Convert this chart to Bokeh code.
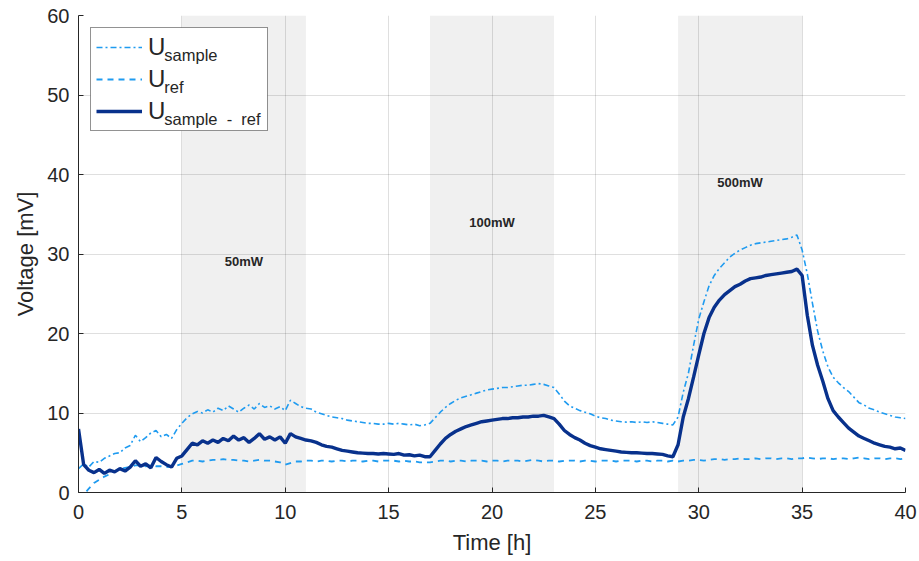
from bokeh.plotting import figure
from bokeh.models import (Range1d, FixedTicker, BoxAnnotation, Label, Legend, LegendItem,
                          ColumnDataSource)
from bokeh.embed import file_html
from bokeh.resources import INLINE

# ---------------- data ----------------
time_h = [i * 0.25 for i in range(161)]

u_sample = [
    3.0, 3.6, 3.2, 3.9, 3.8, 4.3, 4.6, 4.9, 5.0, 5.6, 5.9, 7.2, 6.4, 6.9, 7.5, 7.8,
    7.0, 7.3, 6.8, 7.9, 8.7, 9.4, 9.9, 10.2, 10.0, 10.4, 10.1, 10.6, 10.3, 10.9, 10.5, 10.1,
    10.6, 11.0, 10.5, 11.2, 10.7, 10.9, 10.5, 10.8, 10.3, 11.6, 11.2, 10.8, 10.6, 10.5, 10.1, 9.9,
    9.7, 9.5, 9.4, 9.3, 9.1, 9.0, 8.9, 8.8, 8.7, 8.7, 8.6, 8.6, 8.7, 8.6, 8.7, 8.6,
    8.5, 8.6, 8.4, 8.5, 8.7, 9.4, 10.1, 10.7, 11.2, 11.6, 11.9, 12.1, 12.3, 12.5, 12.7, 12.9,
    13.0, 13.1, 13.2, 13.2, 13.3, 13.4, 13.5, 13.5, 13.6, 13.7, 13.6, 13.4, 13.2, 12.4, 11.5, 10.9,
    10.6, 10.3, 10.1, 9.9, 9.6, 9.4, 9.3, 9.1, 9.0, 8.9, 8.85, 8.9, 8.8, 8.9, 8.8, 8.9,
    8.8, 8.7, 8.6, 8.5, 9.5, 12.6, 15.0, 18.5, 21.8, 24.0, 26.0, 27.3, 28.2, 28.9, 29.6, 30.1,
    30.5, 30.8, 31.1, 31.3, 31.4, 31.5, 31.6, 31.7, 31.8, 31.9, 32.1, 32.4, 30.5, 27.5, 23.8, 20.3,
    17.8, 15.8, 14.5, 13.8, 13.2, 12.7, 12.0, 11.3, 11.0, 10.6, 10.4, 10.1, 9.9, 9.7, 9.5, 9.4,
    9.3,
]

u_ref = [
    -0.8, -0.3, 0.5, 1.2, 1.6, 2.0, 2.3, 2.7, 2.9, 3.1, 3.2, 3.4, 3.4, 3.3, 3.4, 3.3,
    3.3, 3.2, 3.3, 3.4, 3.6, 3.8, 4.0, 4.0, 3.9, 4.0, 4.1, 4.1, 4.2, 4.1, 4.1, 4.0,
    4.0, 3.9, 4.0, 4.1, 4.0, 4.0, 3.9, 3.8, 3.5, 3.7, 3.9, 3.9, 4.0, 4.0, 3.9, 4.0,
    4.0, 3.9, 4.0, 4.0, 3.9, 4.0, 4.0, 3.9, 4.0, 4.0, 3.9, 4.0, 4.0, 4.0, 3.9, 4.0,
    3.9, 3.9, 3.8, 3.8, 3.8, 3.9, 4.0, 4.0, 3.9, 4.0, 4.0, 3.9, 4.0, 4.0, 4.0, 3.9,
    4.0, 4.0, 3.9, 4.0, 4.0, 4.0, 3.9, 4.0, 4.1, 4.0, 3.9, 4.0, 4.0, 3.9, 4.0, 4.0,
    4.0, 3.9, 4.0, 4.0, 3.9, 4.0, 4.0, 4.0, 3.9, 4.0, 4.0, 4.0, 3.9, 4.0, 4.0, 3.9,
    4.0, 4.0, 3.9, 4.0, 3.9, 4.0, 4.0, 4.1, 4.1, 4.0, 4.1, 4.2, 4.2, 4.1, 4.2, 4.2,
    4.3, 4.2, 4.2, 4.3, 4.2, 4.3, 4.3, 4.2, 4.3, 4.3, 4.2, 4.3, 4.3, 4.4, 4.3, 4.2,
    4.3, 4.3, 4.2, 4.3, 4.3, 4.2, 4.3, 4.4, 4.3, 4.2, 4.3, 4.3, 4.2, 4.3, 4.3, 4.2,
    4.3,
]

u_diff = [
    8.0, 3.5, 2.8, 2.5, 2.9, 2.4, 2.8, 2.6, 3.0, 2.7, 3.2, 4.0, 3.3, 3.6, 3.1, 4.4,
    3.9, 3.5, 3.2, 4.3, 4.6, 5.4, 6.2, 6.0, 6.5, 6.2, 6.6, 6.3, 6.8, 6.5, 7.1, 6.6,
    6.9, 6.3, 6.8, 7.4, 6.7, 7.0, 6.6, 7.0, 6.2, 7.4, 7.0, 6.8, 6.6, 6.5, 6.3, 6.0,
    5.8, 5.7, 5.5, 5.3, 5.2, 5.1, 5.0, 4.95, 4.9, 4.9, 4.85, 4.9, 4.85, 4.8, 4.9, 4.7,
    4.75, 4.6, 4.7, 4.5, 4.5, 5.3, 6.1, 6.8, 7.3, 7.7, 8.0, 8.3, 8.5, 8.7, 8.9, 9.0,
    9.1, 9.2, 9.3, 9.3, 9.4, 9.4, 9.5, 9.5, 9.6, 9.6, 9.7, 9.5, 9.3, 8.6, 7.8, 7.3,
    6.9, 6.6, 6.2, 5.9, 5.7, 5.5, 5.4, 5.3, 5.2, 5.1, 5.05, 5.0, 5.0, 4.95, 4.9, 4.9,
    4.85, 4.8, 4.6, 4.5, 6.0, 9.5, 11.8, 14.5, 17.3, 20.0, 22.0, 23.3, 24.2, 24.9, 25.4, 25.9,
    26.2, 26.6, 26.9, 27.0, 27.1, 27.3, 27.4, 27.5, 27.6, 27.7, 27.8, 28.1, 27.3, 22.3, 18.5, 16.0,
    14.0, 11.8, 10.3, 9.5, 8.8, 8.1, 7.6, 7.1, 6.8, 6.5, 6.2, 6.0, 5.8, 5.7, 5.5, 5.6,
    5.3,
]

laser_start = [5, 17, 29]
laser_end = [11, 23, 35]
laser_labels = ["50mW", "100mW", "500mW"]
label_time = [8, 20, 32]
label_volt = [29, 34, 39]

x_ticks = [0, 5, 10, 15, 20, 25, 30, 35, 40]
y_ticks = [0, 10, 20, 30, 40, 50, 60]

legend_main = ["U", "U", "U"]
legend_subs = ["sample", "ref", "sample\u00a0\u00a0-\u00a0\u00a0ref"]

LIGHT = "#1f9bf0"
DARK = "#08318c"
AX = "#262626"
FONT = "Liberation Sans"

p = figure(width=917, height=559, output_backend="svg", toolbar_location=None,
           x_range=Range1d(0, 40), y_range=Range1d(0, 60),
           min_border_left=78, min_border_right=12, min_border_top=15, min_border_bottom=67)
p.outline_line_color = None
p.background_fill_color = "white"

# shaded laser periods
for s, e in zip(laser_start, laser_end):
    p.add_layout(BoxAnnotation(left=s, right=e, fill_color="#f0f0f0", fill_alpha=1.0,
                               line_color=None, level="image"))

src = ColumnDataSource(dict(t=time_h, us=u_sample, ur=u_ref, ud=u_diff))
r1 = p.line("t", "us", source=src, line_color=LIGHT, line_width=1.6, line_dash="6 3 2 3")
r2 = p.line("t", "ur", source=src, line_color=LIGHT, line_width=1.8, line_dash="6 5")
r3 = p.line("t", "ud", source=src, line_color=DARK, line_width=3.4)

# axes
for ax in (p.xaxis[0], p.yaxis[0]):
    ax.axis_line_color = AX
    ax.major_tick_line_color = AX
    ax.major_tick_in = 5
    ax.major_tick_out = 0
    ax.minor_tick_line_color = None
    ax.major_label_text_font = FONT
    ax.major_label_text_font_size = "20px"
    ax.major_label_text_color = AX
    ax.axis_label_text_font = FONT
    ax.axis_label_text_font_size = "22px"
    ax.axis_label_text_font_style = "normal"
    ax.axis_label_text_color = AX
p.xaxis.ticker = FixedTicker(ticks=x_ticks)
p.yaxis.ticker = FixedTicker(ticks=y_ticks)
p.xaxis.axis_label = "Time [h]"
p.yaxis.axis_label = "Voltage [mV]"
p.xaxis.major_label_standoff = 12
p.yaxis.major_label_standoff = 9
p.xaxis.axis_label_standoff = 8
p.yaxis.axis_label_standoff = 6

p.xgrid.grid_line_color = AX
p.xgrid.grid_line_alpha = 0.15
p.ygrid.grid_line_color = AX
p.ygrid.grid_line_alpha = 0.15

# white backing behind the legend (covers the grid there)
p.add_layout(BoxAnnotation(left=0.58, right=9.14, top=58.5, bottom=45.5,
                           fill_color="white", fill_alpha=1.0, line_color=None,
                           level="underlay"))

# power labels
for lt, lv, txt in zip(label_time, label_volt, laser_labels):
    p.add_layout(Label(x=lt, y=lv, text=txt, text_align="center", text_baseline="middle",
                       text_font=FONT, text_font_size="13px", text_font_style="bold",
                       text_color=AX))

# legend
legend = Legend(items=[LegendItem(label=legend_main[0], renderers=[r1]),
                       LegendItem(label=legend_main[1], renderers=[r2]),
                       LegendItem(label=legend_main[2], renderers=[r3])],
                location="top_left", margin=12, padding=5, spacing=4,
                glyph_width=46, glyph_height=28, label_height=28, label_width=114,
                label_standoff=6, label_text_font=FONT, label_text_font_size="24px",
                label_text_color=AX, border_line_color=AX, border_line_width=1.5,
                background_fill_alpha=0.0)
p.add_layout(legend)

# subscripts of the legend entries (placed just right of each "U")
sub_x = 4.15
sub_y = [55.0, 51.0, 47.0]
for s, yy in zip(legend_subs, sub_y):
    p.add_layout(Label(x=sub_x, y=yy, text=s,
                       text_font=FONT, text_font_size="16.5px", text_color=AX,
                       text_baseline="alphabetic"))

open("out.html", "w").write(file_html(p, INLINE))
